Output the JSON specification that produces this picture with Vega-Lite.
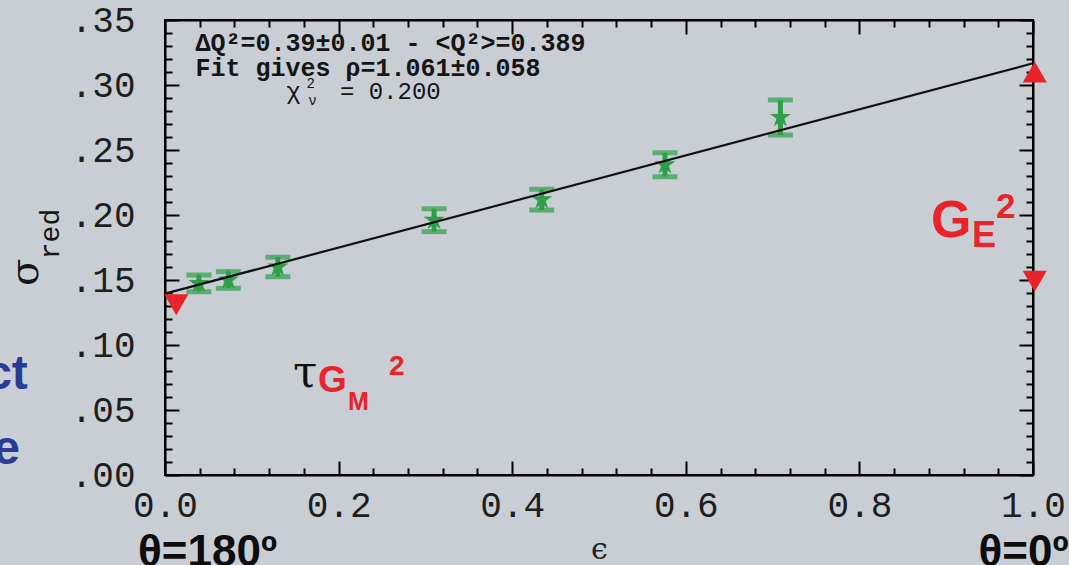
{
  "$schema": "https://vega.github.io/schema/vega-lite/v6.json",
  "width": 868,
  "height": 455,
  "autosize": {"type": "none"},
  "padding": {"left": 165, "top": 20, "right": 36, "bottom": 90},
  "background": "#c9ced5",
  "config": {"view": {"stroke": "black", "strokeWidth": 2}, "axis": {"grid": false}},
  "datasets": {
    "pts": [
      {"x": 0.039, "y": 0.1474, "lo": 0.1410, "hi": 0.1538},
      {"x": 0.073, "y": 0.1500, "lo": 0.1436, "hi": 0.1564},
      {"x": 0.130, "y": 0.1600, "lo": 0.1525, "hi": 0.1675},
      {"x": 0.310, "y": 0.1960, "lo": 0.1872, "hi": 0.2048},
      {"x": 0.434, "y": 0.2118, "lo": 0.2038, "hi": 0.2198},
      {"x": 0.576, "y": 0.2387, "lo": 0.2295, "hi": 0.2479},
      {"x": 0.709, "y": 0.2750, "lo": 0.2615, "hi": 0.2885}
    ],
    "fit": [{"x": 0.0, "y": 0.1395}, {"x": 1.0, "y": 0.3167}],
    "tri": [
      {"x": 0.013, "y": 0.131, "dir": "down"},
      {"x": 1.002, "y": 0.310, "dir": "up"},
      {"x": 1.002, "y": 0.149, "dir": "down"}
    ],
    "note": [
      {"x": 0.035, "y": 0.3321, "t": "ΔQ²=0.39±0.01 - <Q²>=0.389"},
      {"x": 0.035, "y": 0.3128, "t": "Fit gives ρ=1.061±0.058"}
    ],
    "chi": [
      {"x": 0.1398, "y": 0.2949, "t": "χ"},
      {"x": 0.2015, "y": 0.2949, "t": "= 0.200"}
    ],
    "chismall": [
      {"x": 0.1630, "y": 0.3010, "t": "2"},
      {"x": 0.1650, "y": 0.2880, "t": "ν"}
    ],
    "bigG": [
      {"x": 0.8825, "y": 0.1831, "t": "G"}
    ],
    "subE": [
      {"x": 0.9297, "y": 0.1754, "t": "E"}
    ],
    "supE": [
      {"x": 0.9574, "y": 0.1977, "t": "2"}
    ],
    "tau": [{"x": 0.1475, "y": 0.0677, "t": "τ"}],
    "midG": [{"x": 0.1763, "y": 0.0638, "t": "G"}],
    "subM": [{"x": 0.2108, "y": 0.0500, "t": "M"}],
    "supM": [{"x": 0.2581, "y": 0.0769, "t": "2"}],
    "theta": [
      {"x": 0.049, "y": -0.070, "t": "θ=180º"},
      {"x": 0.989, "y": -0.070, "t": "θ=0º"}
    ],
    "blue": [
      {"x": -0.158, "y": 0.077, "t": "ct"},
      {"x": -0.167, "y": 0.019, "t": "e"}
    ],
    "sigma": [{"x": -0.1596, "y": 0.1558, "t": "σ"}],
    "red": [{"x": -0.1319, "y": 0.1854, "t": "red"}]
  },
  "resolve": {"axis": {"x": "independent", "y": "independent"}},
  "layer": [
    {
      "data": {"name": "pts"},
      "mark": {"type": "rule", "color": "#2e9f48", "strokeWidth": 5},
      "encoding": {
        "x": {
          "field": "x", "type": "quantitative",
          "scale": {"domain": [0, 1], "nice": false, "zero": false},
          "axis": {
            "orient": "bottom",
            "values": [0, 0.04, 0.08, 0.12, 0.16, 0.2, 0.24, 0.28, 0.32, 0.36, 0.4, 0.44, 0.48, 0.52, 0.56, 0.6, 0.64, 0.68, 0.72, 0.76, 0.8, 0.84, 0.88, 0.92, 0.96, 1],
            "labelExpr": "abs(datum.value*5-round(datum.value*5))<1e-6 ? format(datum.value,'.1f') : ''",
            "tickSize": {"condition": {"test": "abs(datum.value*5-round(datum.value*5))<1e-6", "value": -14}, "value": -7},
            "tickColor": "black", "tickWidth": 2, "domainColor": "black", "domainWidth": 2,
            "labelFont": "Liberation Mono", "labelFontSize": 36, "labelColor": "#1e1e1e",
            "labelPadding": 27, "labelFlush": false, "labelOverlap": false, "labelBound": false,
            "title": "ϵ", "titleFont": "DejaVu Serif", "titleFontSize": 30, "titleFontWeight": "normal",
            "titleColor": "#1e1e1e", "titlePadding": 4
          }
        },
        "y": {
          "field": "lo", "type": "quantitative",
          "scale": {"domain": [0, 0.35], "nice": false, "zero": false},
          "axis": {
            "orient": "left",
            "values": [0, 0.01, 0.02, 0.03, 0.04, 0.05, 0.06, 0.07, 0.08, 0.09, 0.1, 0.11, 0.12, 0.13, 0.14, 0.15, 0.16, 0.17, 0.18, 0.19, 0.2, 0.21, 0.22, 0.23, 0.24, 0.25, 0.26, 0.27, 0.28, 0.29, 0.3, 0.31, 0.32, 0.33, 0.34, 0.35],
            "labelExpr": "abs(datum.value*20-round(datum.value*20))<1e-6 ? replace(format(datum.value,'.2f'),'0.','.') : ''",
            "tickSize": {"condition": {"test": "abs(datum.value*20-round(datum.value*20))<1e-6", "value": -14}, "value": -7},
            "tickColor": "black", "tickWidth": 2, "domainColor": "black", "domainWidth": 2,
            "labelFont": "Liberation Mono", "labelFontSize": 36, "labelColor": "#1e1e1e",
            "labelPadding": 44, "labelFlush": false, "labelOverlap": false, "labelBound": false,
            "title": null
          }
        },
        "y2": {"field": "hi"}
      }
    },
    {
      "data": {"name": "pts"},
      "mark": {"type": "tick", "orient": "horizontal", "color": "#2e9f48", "size": 25, "thickness": 5},
      "encoding": {
        "x": {
          "field": "x", "type": "quantitative",
          "scale": {"domain": [0, 1], "nice": false, "zero": false},
          "axis": {
            "orient": "top", "labels": false, "title": null,
            "values": [0, 0.04, 0.08, 0.12, 0.16, 0.2, 0.24, 0.28, 0.32, 0.36, 0.4, 0.44, 0.48, 0.52, 0.56, 0.6, 0.64, 0.68, 0.72, 0.76, 0.8, 0.84, 0.88, 0.92, 0.96, 1],
            "tickSize": {"condition": {"test": "abs(datum.value*5-round(datum.value*5))<1e-6", "value": -14}, "value": -7},
            "tickColor": "black", "tickWidth": 2, "domainColor": "black", "domainWidth": 2
          }
        },
        "y": {
          "field": "lo", "type": "quantitative",
          "scale": {"domain": [0, 0.35], "nice": false, "zero": false},
          "axis": {
            "orient": "right", "labels": false, "title": null,
            "values": [0, 0.01, 0.02, 0.03, 0.04, 0.05, 0.06, 0.07, 0.08, 0.09, 0.1, 0.11, 0.12, 0.13, 0.14, 0.15, 0.16, 0.17, 0.18, 0.19, 0.2, 0.21, 0.22, 0.23, 0.24, 0.25, 0.26, 0.27, 0.28, 0.29, 0.3, 0.31, 0.32, 0.33, 0.34, 0.35],
            "tickSize": {"condition": {"test": "abs(datum.value*20-round(datum.value*20))<1e-6", "value": -14}, "value": -7},
            "tickColor": "black", "tickWidth": 2, "domainColor": "black", "domainWidth": 2
          }
        }
      }
    },
    {
      "data": {"name": "pts"},
      "mark": {"type": "tick", "orient": "horizontal", "color": "#2e9f48", "size": 25, "thickness": 5},
      "encoding": {
        "x": {"field": "x", "type": "quantitative", "scale": {"domain": [0, 1], "nice": false, "zero": false}, "axis": null},
        "y": {"field": "hi", "type": "quantitative", "scale": {"domain": [0, 0.35], "nice": false, "zero": false}, "axis": null}
      }
    },
    {
      "data": {"name": "pts"},
      "mark": {"type": "point", "filled": true, "color": "#2e9f48", "opacity": 1, "size": 480,
               "shape": "M0,-1L0.224,-0.309L0.951,-0.309L0.363,0.118L0.588,0.809L0,0.382L-0.588,0.809L-0.363,0.118L-0.951,-0.309L-0.224,-0.309Z"},
      "encoding": {
        "x": {"field": "x", "type": "quantitative", "scale": {"domain": [0, 1], "nice": false, "zero": false}, "axis": null},
        "y": {"field": "y", "type": "quantitative", "scale": {"domain": [0, 0.35], "nice": false, "zero": false}, "axis": null}
      }
    },
    {
      "data": {"name": "fit"},
      "mark": {"type": "line", "color": "#111111", "strokeWidth": 2.2},
      "encoding": {
        "x": {"field": "x", "type": "quantitative", "scale": {"domain": [0, 1], "nice": false, "zero": false}, "axis": null},
        "y": {"field": "y", "type": "quantitative", "scale": {"domain": [0, 0.35], "nice": false, "zero": false}, "axis": null}
      }
    },
    {
      "data": {"name": "tri"},
      "mark": {"type": "point", "filled": true, "color": "#e8232a", "opacity": 1, "size": 580},
      "encoding": {
        "x": {"field": "x", "type": "quantitative", "scale": {"domain": [0, 1], "nice": false, "zero": false}, "axis": null},
        "y": {"field": "y", "type": "quantitative", "scale": {"domain": [0, 0.35], "nice": false, "zero": false}, "axis": null},
        "shape": {"field": "dir", "type": "nominal", "scale": {"domain": ["up", "down"], "range": ["triangle-up", "triangle-down"]}, "legend": null}
      }
    },
    {
      "data": {"name": "note"},
      "mark": {"type": "text", "font": "Liberation Mono", "fontWeight": "bold", "fontSize": 25, "color": "#151515", "align": "left", "baseline": "middle"},
      "encoding": {
        "x": {"field": "x", "type": "quantitative", "scale": {"domain": [0, 1], "nice": false, "zero": false}, "axis": null},
        "y": {"field": "y", "type": "quantitative", "scale": {"domain": [0, 0.35], "nice": false, "zero": false}, "axis": null},
        "text": {"field": "t"}
      }
    },
    {
      "data": {"name": "chi"},
      "mark": {"type": "text", "font": "Liberation Mono", "fontSize": 24, "color": "#151515", "align": "left", "baseline": "middle"},
      "encoding": {
        "x": {"field": "x", "type": "quantitative", "scale": {"domain": [0, 1], "nice": false, "zero": false}, "axis": null},
        "y": {"field": "y", "type": "quantitative", "scale": {"domain": [0, 0.35], "nice": false, "zero": false}, "axis": null},
        "text": {"field": "t"}
      }
    },
    {
      "data": {"name": "chismall"},
      "mark": {"type": "text", "font": "Liberation Mono", "fontSize": 14, "color": "#151515", "align": "left", "baseline": "middle"},
      "encoding": {
        "x": {"field": "x", "type": "quantitative", "scale": {"domain": [0, 1], "nice": false, "zero": false}, "axis": null},
        "y": {"field": "y", "type": "quantitative", "scale": {"domain": [0, 0.35], "nice": false, "zero": false}, "axis": null},
        "text": {"field": "t"}
      }
    },
    {
      "data": {"name": "bigG"},
      "mark": {"type": "text", "font": "Liberation Sans", "fontWeight": "bold", "fontSize": 52, "color": "#e8232a", "align": "left", "baseline": "alphabetic"},
      "encoding": {
        "x": {"field": "x", "type": "quantitative", "scale": {"domain": [0, 1], "nice": false, "zero": false}, "axis": null},
        "y": {"field": "y", "type": "quantitative", "scale": {"domain": [0, 0.35], "nice": false, "zero": false}, "axis": null},
        "text": {"field": "t"}
      }
    },
    {
      "data": {"name": "subE"},
      "mark": {"type": "text", "font": "Liberation Sans", "fontWeight": "bold", "fontSize": 36, "color": "#e8232a", "align": "left", "baseline": "alphabetic"},
      "encoding": {
        "x": {"field": "x", "type": "quantitative", "scale": {"domain": [0, 1], "nice": false, "zero": false}, "axis": null},
        "y": {"field": "y", "type": "quantitative", "scale": {"domain": [0, 0.35], "nice": false, "zero": false}, "axis": null},
        "text": {"field": "t"}
      }
    },
    {
      "data": {"name": "supE"},
      "mark": {"type": "text", "font": "Liberation Sans", "fontWeight": "bold", "fontSize": 35, "color": "#e8232a", "align": "left", "baseline": "alphabetic"},
      "encoding": {
        "x": {"field": "x", "type": "quantitative", "scale": {"domain": [0, 1], "nice": false, "zero": false}, "axis": null},
        "y": {"field": "y", "type": "quantitative", "scale": {"domain": [0, 0.35], "nice": false, "zero": false}, "axis": null},
        "text": {"field": "t"}
      }
    },
    {
      "data": {"name": "tau"},
      "mark": {"type": "text", "font": "DejaVu Serif", "fontSize": 44, "color": "#111111", "align": "left", "baseline": "alphabetic"},
      "encoding": {
        "x": {"field": "x", "type": "quantitative", "scale": {"domain": [0, 1], "nice": false, "zero": false}, "axis": null},
        "y": {"field": "y", "type": "quantitative", "scale": {"domain": [0, 0.35], "nice": false, "zero": false}, "axis": null},
        "text": {"field": "t"}
      }
    },
    {
      "data": {"name": "midG"},
      "mark": {"type": "text", "font": "Liberation Sans", "fontWeight": "bold", "fontSize": 37, "color": "#e8232a", "align": "left", "baseline": "alphabetic"},
      "encoding": {
        "x": {"field": "x", "type": "quantitative", "scale": {"domain": [0, 1], "nice": false, "zero": false}, "axis": null},
        "y": {"field": "y", "type": "quantitative", "scale": {"domain": [0, 0.35], "nice": false, "zero": false}, "axis": null},
        "text": {"field": "t"}
      }
    },
    {
      "data": {"name": "subM"},
      "mark": {"type": "text", "font": "Liberation Sans", "fontWeight": "bold", "fontSize": 25, "color": "#e8232a", "align": "left", "baseline": "alphabetic"},
      "encoding": {
        "x": {"field": "x", "type": "quantitative", "scale": {"domain": [0, 1], "nice": false, "zero": false}, "axis": null},
        "y": {"field": "y", "type": "quantitative", "scale": {"domain": [0, 0.35], "nice": false, "zero": false}, "axis": null},
        "text": {"field": "t"}
      }
    },
    {
      "data": {"name": "supM"},
      "mark": {"type": "text", "font": "Liberation Sans", "fontWeight": "bold", "fontSize": 28, "color": "#e8232a", "align": "left", "baseline": "alphabetic"},
      "encoding": {
        "x": {"field": "x", "type": "quantitative", "scale": {"domain": [0, 1], "nice": false, "zero": false}, "axis": null},
        "y": {"field": "y", "type": "quantitative", "scale": {"domain": [0, 0.35], "nice": false, "zero": false}, "axis": null},
        "text": {"field": "t"}
      }
    },
    {
      "data": {"name": "theta"},
      "mark": {"type": "text", "font": "Liberation Sans Narrow, Liberation Sans", "fontWeight": "bold", "fontSize": 44, "color": "#0d0d0d", "align": "center", "baseline": "alphabetic"},
      "encoding": {
        "x": {"field": "x", "type": "quantitative", "scale": {"domain": [0, 1], "nice": false, "zero": false}, "axis": null},
        "y": {"field": "y", "type": "quantitative", "scale": {"domain": [0, 0.35], "nice": false, "zero": false}, "axis": null},
        "text": {"field": "t"}
      }
    },
    {
      "data": {"name": "blue"},
      "mark": {"type": "text", "font": "Liberation Sans", "fontWeight": "bold", "fontSize": 48, "color": "#2b3b98", "align": "right", "baseline": "middle"},
      "encoding": {
        "x": {"field": "x", "type": "quantitative", "scale": {"domain": [0, 1], "nice": false, "zero": false}, "axis": null},
        "y": {"field": "y", "type": "quantitative", "scale": {"domain": [0, 0.35], "nice": false, "zero": false}, "axis": null},
        "text": {"field": "t"}
      }
    },
    {
      "data": {"name": "sigma"},
      "mark": {"type": "text", "font": "DejaVu Serif", "fontSize": 40, "color": "#151515", "align": "center", "baseline": "middle", "angle": 270},
      "encoding": {
        "x": {"field": "x", "type": "quantitative", "scale": {"domain": [0, 1], "nice": false, "zero": false}, "axis": null},
        "y": {"field": "y", "type": "quantitative", "scale": {"domain": [0, 0.35], "nice": false, "zero": false}, "axis": null},
        "text": {"field": "t"}
      }
    },
    {
      "data": {"name": "red"},
      "mark": {"type": "text", "font": "Liberation Mono", "fontSize": 28, "color": "#151515", "align": "center", "baseline": "middle", "angle": 270},
      "encoding": {
        "x": {"field": "x", "type": "quantitative", "scale": {"domain": [0, 1], "nice": false, "zero": false}, "axis": null},
        "y": {"field": "y", "type": "quantitative", "scale": {"domain": [0, 0.35], "nice": false, "zero": false}, "axis": null},
        "text": {"field": "t"}
      }
    }
  ]
}
